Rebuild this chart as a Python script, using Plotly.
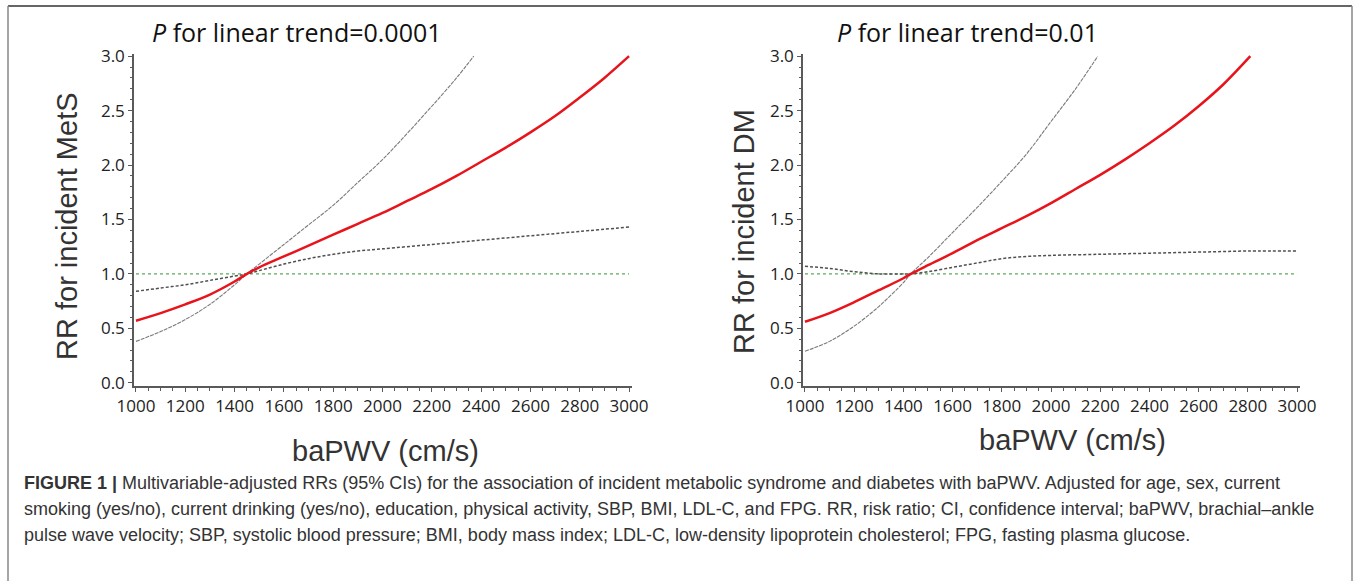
import plotly.graph_objects as go

# ---------------- data ----------------
# Left panel: incident MetS
mets_x_rr = [1000, 1100, 1200, 1300, 1400, 1450, 1500, 1600, 1700, 1800, 1900, 2000, 2100, 2200, 2300, 2400, 2500, 2600, 2700, 2800, 2900, 3000]
mets_rr = [0.57, 0.64, 0.72, 0.81, 0.93, 1.00, 1.06, 1.16, 1.26, 1.36, 1.46, 1.56, 1.67, 1.78, 1.90, 2.03, 2.16, 2.30, 2.45, 2.62, 2.80, 3.00]
mets_x_steep = [1000, 1100, 1200, 1300, 1400, 1450, 1500, 1600, 1700, 1800, 1900, 2000, 2100, 2200, 2300, 2370]
mets_steep = [0.38, 0.47, 0.58, 0.72, 0.90, 1.00, 1.09, 1.27, 1.45, 1.63, 1.84, 2.05, 2.29, 2.54, 2.80, 3.00]
mets_x_flat = [1000, 1100, 1200, 1300, 1400, 1450, 1500, 1600, 1700, 1800, 1900, 2000, 2200, 2400, 2600, 2800, 3000]
mets_flat = [0.84, 0.87, 0.90, 0.94, 0.98, 1.00, 1.03, 1.09, 1.14, 1.18, 1.21, 1.23, 1.27, 1.31, 1.35, 1.39, 1.43]

# Right panel: incident DM
dm_x_rr = [1000, 1100, 1200, 1300, 1400, 1430, 1500, 1600, 1700, 1800, 1900, 2000, 2100, 2200, 2300, 2400, 2500, 2600, 2700, 2810]
dm_rr = [0.56, 0.64, 0.74, 0.85, 0.96, 1.00, 1.08, 1.19, 1.31, 1.42, 1.53, 1.65, 1.78, 1.91, 2.05, 2.20, 2.36, 2.54, 2.74, 3.00]
dm_x_steep = [1000, 1100, 1200, 1300, 1400, 1430, 1500, 1600, 1700, 1800, 1900, 2000, 2100, 2190]
dm_steep = [0.29, 0.38, 0.52, 0.70, 0.92, 1.00, 1.15, 1.38, 1.61, 1.85, 2.10, 2.40, 2.70, 3.00]
dm_x_flat = [1000, 1100, 1200, 1300, 1400, 1430, 1500, 1600, 1700, 1800, 1900, 2000, 2200, 2400, 2600, 2800, 3000]
dm_flat = [1.07, 1.05, 1.02, 1.00, 1.00, 1.00, 1.02, 1.06, 1.10, 1.14, 1.16, 1.17, 1.18, 1.19, 1.20, 1.21, 1.21]

ref_x = [1000, 3000]
ref_y = [1.0, 1.0]

x_ticks = [1000, 1200, 1400, 1600, 1800, 2000, 2200, 2400, 2600, 2800, 3000]
y_ticks = [0.0, 0.5, 1.0, 1.5, 2.0, 2.5, 3.0]

titles = ["<i>P</i> for linear trend=0.0001", "<i>P</i> for linear trend=0.01"]
y_titles = ["RR for incident MetS", "RR for incident DM"]
x_title = "baPWV (cm/s)"
caption_lines = [
    "<b>FIGURE 1 |</b> Multivariable-adjusted RRs (95% CIs) for the association of incident metabolic syndrome and diabetes with baPWV. Adjusted for age, sex, current",
    "smoking (yes/no), current drinking (yes/no), education, physical activity, SBP, BMI, LDL-C, and FPG. RR, risk ratio; CI, confidence interval; baPWV, brachial\u2013ankle",
    "pulse wave velocity; SBP, systolic blood pressure; BMI, body mass index; LDL-C, low-density lipoprotein cholesterol; FPG, fasting plasma glucose.",
]

# ---------------- layout helpers ----------------
W, H = 1357, 581
def px_x(p):
    return p / W
def px_y(p):
    return 1 - p / H

fig = go.Figure()

RED = "#e8141b"
panels = [
    ("x", "y", mets_x_rr, mets_rr, mets_x_steep, mets_steep, mets_x_flat, mets_flat),
    ("x2", "y2", dm_x_rr, dm_rr, dm_x_steep, dm_steep, dm_x_flat, dm_flat),
]
for xa, ya, xr, yr, xs, ys, xf, yf in panels:
    fig.add_trace(go.Scatter(x=ref_x, y=ref_y, mode="lines", xaxis=xa, yaxis=ya,
                             line=dict(color="#5aa85a", width=1.3, dash="dot"), showlegend=False))
    fig.add_trace(go.Scatter(x=xf, y=yf, mode="lines", xaxis=xa, yaxis=ya, line_shape="spline",
                             line=dict(color="#505050", width=1.5, dash="3px,2px"), showlegend=False))
    fig.add_trace(go.Scatter(x=xs, y=ys, mode="lines", xaxis=xa, yaxis=ya, line_shape="spline",
                             line=dict(color="#7a7a7a", width=1.1, dash="4px,1px"), showlegend=False))
    fig.add_trace(go.Scatter(x=xr, y=yr, mode="lines", xaxis=xa, yaxis=ya, line_shape="spline",
                             line=dict(color=RED, width=2.5), showlegend=False))

axis_common = dict(
    showgrid=False, zeroline=False, showline=True, linecolor="#5a5a5a", linewidth=1.5,
    ticks="outside", ticklen=4, tickwidth=1, tickcolor="#5a5a5a", automargin=False,
    tickfont=dict(family="Open Sans", size=17, color="#222222"),
)
xdom1 = [px_x(134), px_x(632)]
xdom2 = [px_x(803), px_x(1300)]
ydom = [px_y(386), px_y(54)]

fig.update_layout(
    width=W, height=H, margin=dict(l=0, r=0, t=0, b=0, autoexpand=False),
    paper_bgcolor="white", plot_bgcolor="white",
    xaxis=dict(domain=xdom1, range=[992, 3012], tickvals=x_ticks, anchor="y",
               minor=dict(dtick=50, tick0=1000, ticks="outside", ticklen=3, tickcolor="#5a5a5a"), **axis_common),
    yaxis=dict(domain=ydom, range=[-0.03, 3.02], tickvals=y_ticks, tickformat=".1f", anchor="x",
               minor=dict(dtick=0.1, tick0=0, ticks="outside", ticklen=2, tickcolor="#5a5a5a"), **axis_common),
    xaxis2=dict(domain=xdom2, range=[992, 3012], tickvals=x_ticks, anchor="y2",
                minor=dict(dtick=50, tick0=1000, ticks="outside", ticklen=3, tickcolor="#5a5a5a"), **axis_common),
    yaxis2=dict(domain=ydom, range=[-0.03, 3.02], tickvals=y_ticks, tickformat=".1f", anchor="x2",
                minor=dict(dtick=0.1, tick0=0, ticks="outside", ticklen=2, tickcolor="#5a5a5a"), **axis_common),
)

ann = []
# panel titles
ann.append(dict(text=titles[0], x=px_x(150), y=px_y(32), xanchor="left", yanchor="middle",
                font=dict(family="Open Sans", size=25, color="#111111")))
ann.append(dict(text=titles[1], x=px_x(835), y=px_y(32), xanchor="left", yanchor="middle",
                font=dict(family="Open Sans", size=25, color="#111111")))
# y axis titles
ann.append(dict(text=y_titles[0], x=px_x(67), y=px_y(226), textangle=-90, xanchor="center", yanchor="middle",
                font=dict(family="Liberation Sans", size=29, color="#333333")))
ann.append(dict(text=y_titles[1], x=px_x(744), y=px_y(232), textangle=-90, xanchor="center", yanchor="middle",
                font=dict(family="Liberation Sans", size=29, color="#333333")))
# x axis titles
ann.append(dict(text=x_title, x=px_x(385), y=px_y(451), xanchor="center", yanchor="middle",
                font=dict(family="Liberation Sans", size=29, color="#333333")))
ann.append(dict(text=x_title, x=px_x(1072), y=px_y(440), xanchor="center", yanchor="middle",
                font=dict(family="Liberation Sans", size=29, color="#333333")))
# caption
for i, line in enumerate(caption_lines):
    ann.append(dict(text=line, x=px_x(22), y=px_y(483 + 26 * i), xanchor="left", yanchor="middle",
                    font=dict(family="Liberation Sans", size=18, color="#333333")))
for a in ann:
    a.update(xref="paper", yref="paper", showarrow=False)
fig.update_layout(annotations=ann)

# figure frame
frame = []
frame.append(dict(type="line", x0=px_x(8), x1=px_x(1352), y0=px_y(6), y1=px_y(6), line=dict(color="#333333", width=1.5)))
frame.append(dict(type="line", x0=px_x(8), x1=px_x(8), y0=px_y(6), y1=0, line=dict(color="#888888", width=1.5)))
frame.append(dict(type="line", x0=px_x(1352), x1=px_x(1352), y0=px_y(6), y1=0, line=dict(color="#888888", width=1.5)))
for s in frame:
    s.update(xref="paper", yref="paper")
fig.update_layout(shapes=frame)

fig.write_html("out.html", config={"displayModeBar": False},
               post_script="document.body.style.margin='0';document.body.style.overflow='hidden';")
